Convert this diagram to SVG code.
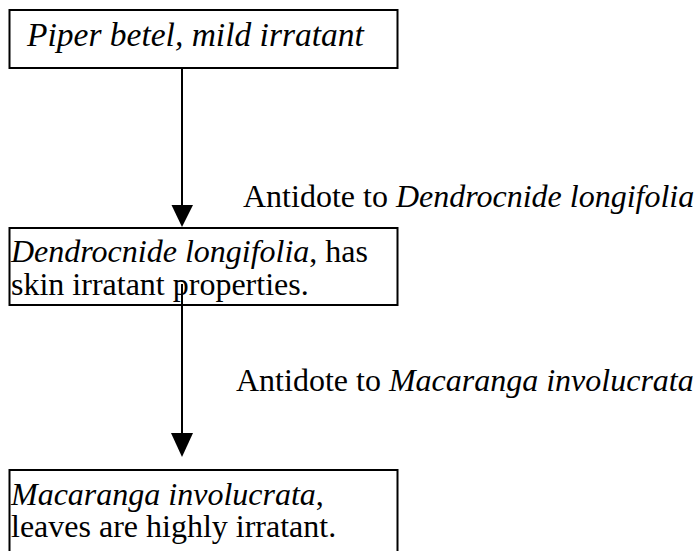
<svg xmlns="http://www.w3.org/2000/svg" width="700" height="551" viewBox="0 0 700 551">
<style>
.box{fill:#fff;stroke:#000;stroke-width:2}
.t{font-family:"Liberation Serif","Times New Roman",serif;font-size:32px;fill:#000}
.i{font-style:italic}
.ln{stroke:#000;stroke-width:2;fill:none}
.hd{fill:#000}
</style>
<rect width="700" height="551" fill="#fff"/>
<g id="node-piper">
<rect class="box" x="9.5" y="10" width="388" height="58"/>
<text class="t i" x="27" y="46" style="font-size:33.5px">Piper betel, mild irratant</text>
</g>
<g id="node-dendrocnide">
<rect class="box" x="9.5" y="228" width="388" height="77"/>
<text class="t" x="11" y="262"><tspan class="i">Dendrocnide longifolia</tspan>, has</text>
<text class="t" x="11" y="295">skin irratant properties.</text>
</g>
<g id="node-macaranga">
<rect class="box" x="9.5" y="470" width="388" height="100"/>
<text class="t" x="11" y="505"><tspan class="i">Macaranga involucrata</tspan>,</text>
<text class="t" x="11" y="537">leaves are highly irratant.</text>
</g>
<g id="connectors">
<line class="ln" x1="182" y1="68" x2="182" y2="208"/>
<polygon class="hd" points="171.5,205 193,205 182,227"/>
<line class="ln" x1="182" y1="284" x2="182" y2="436"/>
<polygon class="hd" points="171,433 193,433 182,457"/>
<text class="t" x="243" y="207">Antidote to <tspan class="i">Dendrocnide longifolia</tspan></text>
<text class="t" x="236" y="391">Antidote to <tspan class="i">Macaranga involucrata</tspan></text>
</g>
</svg>
